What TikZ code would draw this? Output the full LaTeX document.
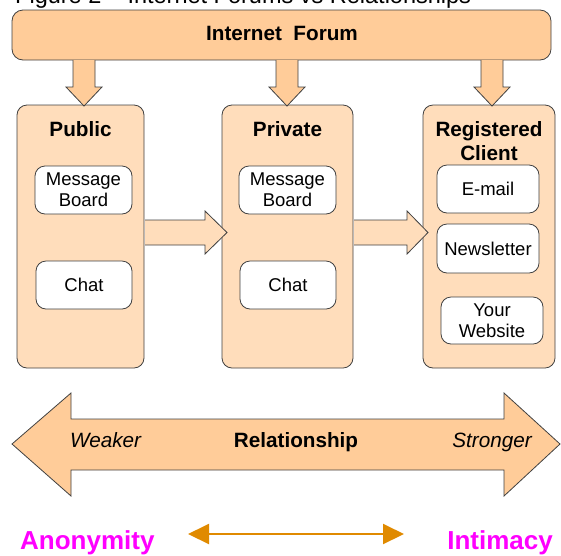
\documentclass[tikz,border=0pt]{standalone}
\usepackage{fontspec}
\setmainfont{Liberation Sans}
\usetikzlibrary{arrows.meta,calc}
\definecolor{darkfill}{HTML}{FFCC99}
\definecolor{lightfill}{HTML}{FFDDBB}
\definecolor{edgecol}{HTML}{404040}
\definecolor{magcol}{HTML}{FF00FF}
\definecolor{orangecol}{HTML}{E08A00}
\begin{document}
\begin{tikzpicture}[x=1pt,y=-1pt,
  forumbox/.style={draw=edgecol, line width=0.8pt, fill=darkfill, rounded corners=11pt, minimum width=539pt, minimum height=50pt, inner sep=0pt},
  colbox/.style={draw=edgecol, line width=0.8pt, fill=lightfill, rounded corners=10pt, inner sep=0pt, minimum height=263pt},
  itembox/.style={draw=edgecol, line width=0.8pt, fill=white, rounded corners=10pt, minimum height=48pt, inner sep=0pt, align=center, font=\fontsize{18.5}{21}\selectfont},
  blockarrow/.style={draw=edgecol, line width=0.8pt, line join=miter},
  headtext/.style={font=\fontsize{20.7}{24}\selectfont\bfseries, anchor=base, align=center, inner sep=0pt},
  plaintext/.style={font=\fontsize{20.7}{24}\selectfont, inner sep=0pt},
  bigtext/.style={font=\fontsize{26}{30}\selectfont\bfseries, text=magcol, inner sep=0pt},
  orangearrow/.style={draw=orangecol, line width=2pt, {Triangle[length=21pt,width=20pt]}-{Triangle[length=21pt,width=20pt]}}
]
\useasboundingbox (0,0) rectangle (561,555);

% partially visible caption
\node[plaintext, font=\fontsize{23.5}{28}\selectfont, anchor=base west] (title) at (15,3) {Figure 2 – Internet Forums vs Relationships};

% top box
\node[forumbox] (forum) at (281.5,35) {};
\node[headtext] (forumtxt) at (282,40) {Internet\ \ Forum};

% columns
\node[colbox, minimum width=127pt] (pub) at (80.5,236.5) {};
\node[colbox, minimum width=131pt] (priv) at (287.5,236.5) {};
\node[colbox, minimum width=132pt] (reg) at (489,236.5) {};

% down arrows
\foreach \cx in {84,287,492}{
  \filldraw[blockarrow, fill=darkfill] (\cx-11,60) -- (\cx-11,87) -- (\cx-18,87) -- (\cx,106) -- (\cx+18,87) -- (\cx+11,87) -- (\cx+11,60);
}

% column titles
\node[headtext] (pubtitle) at (80.5,136) {Public};
\node[headtext] (privtitle) at (287.5,136) {Private};
\node[headtext] (regtitle) at (489,160) {Registered\\Client};

% items
\node[itembox, minimum width=97pt] (pubmb) at (83.5,190) {Message\\Board};
\node[itembox, minimum width=96pt] (pubchat) at (84,285) {Chat};
\node[itembox, minimum width=97pt] (privmb) at (287.5,190) {Message\\Board};
\node[itembox, minimum width=96pt] (privchat) at (288,285) {Chat};
\node[itembox, minimum width=102pt] (email) at (488,189) {E-mail};
\node[itembox, minimum width=102pt, minimum height=49pt] (news) at (488,248.5) {Newsletter};
\node[itembox, minimum width=102pt, minimum height=47pt] (web) at (492,320.5) {Your\\Website};

% right block arrows
\filldraw[blockarrow, fill=lightfill] (145,220) -- (205,220) -- (205,211) -- (227,232.5) -- (205,254) -- (205,245) -- (145,245);
\filldraw[blockarrow, fill=lightfill] (354,220) -- (407,220) -- (407,211) -- (428,232.5) -- (407,254) -- (407,245) -- (354,245);

% relationship double arrow
\filldraw[blockarrow, fill=darkfill] (12,444) -- (71,393) -- (71,419) -- (504,419) -- (504,393) -- (560,444) -- (504,496) -- (504,470) -- (71,470) -- (71,496) -- cycle;
\node[plaintext, font=\fontsize{20.7}{24}\selectfont\itshape, anchor=base west] (weak) at (70,447) {Weaker};
\node[headtext] (rel) at (296,447) {Relationship};
\node[plaintext, font=\fontsize{20.7}{24}\selectfont\itshape, anchor=base east] (strong) at (532,447) {Stronger};

% bottom
\node[bigtext, anchor=base west] (anon) at (20,549) {Anonymity};
\node[bigtext, anchor=base east] (intim) at (553,549) {Intimacy};
\coordinate (oa) at (188,534);
\coordinate (ob) at (404,534);
\draw[orangearrow] (oa) -- (ob);
\end{tikzpicture}
\end{document}
